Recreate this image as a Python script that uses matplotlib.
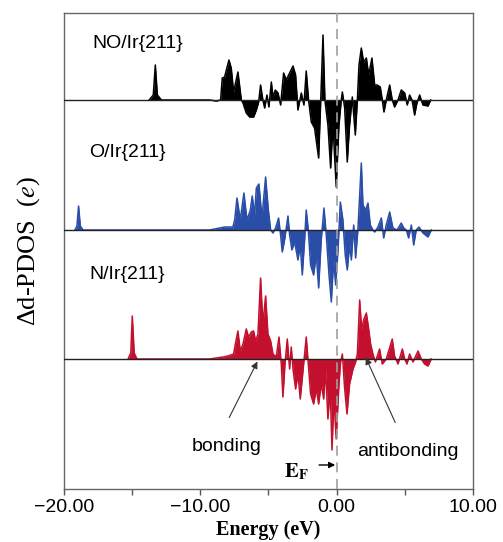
import numpy as np
import matplotlib
matplotlib.use("Agg")
import matplotlib.pyplot as plt
from matplotlib.ticker import MultipleLocator, FuncFormatter

plt.rcParams['font.family'] = ['Liberation Sans', 'DejaVu Sans']
plt.rcParams['mathtext.fontset'] = 'stix'

# Δd-PDOS değerleri (enerji eV, yükseklik keyfi birim)
no_energy = [-13.75, -13.45, -13.3, -13.15, -12.85,
             -9.32, -8.83, -8.51, -8.39, -8.22, -7.90, -7.73, -7.56, -7.24, -6.99,
             -6.87, -6.63, -6.38, -6.09, -5.89, -5.72, -5.58, -5.41, -5.28, -5.11,
             -4.97, -4.79, -4.67, -4.50, -4.30, -4.11, -3.89, -3.69, -3.52, -3.20,
             -3.01, -2.84, -2.59, -2.40, -2.23, -2.06, -1.86, -1.62, -1.32, -1.17,
             -1.00, -0.86, -0.64, -0.44, -0.27, -0.03, 0.17, 0.34, 0.42, 0.59,
             0.78, 0.95, 1.15, 1.37, 1.52, 1.64, 1.81, 1.98, 2.18, 2.35,
             2.59, 2.79, 2.98, 3.20, 3.35, 3.47, 3.64, 3.89, 4.08, 4.25,
             4.50, 4.74, 4.99, 5.18, 5.35, 5.53, 5.72, 5.89, 6.09, 6.33,
             6.70, 6.90]
no_dos = [0, 5, 35, 5, 0,
          0, -1, 0, 22, 23, 40, 32, 8, 28, 0,
          -3, -13, -17, -17, -10, -2, 15, 0, -8, 5,
          -7, 18, 3, 10, 7, -5, 27, 20, 25, 34,
          25, -10, 7, -5, 29, 0, -22, -28, -58, -2,
          65, 0, -25, -68, -25, -87, -25, 0, 8, -8,
          -62, -25, 3, -35, 0, 35, 52, 38, 42, 25,
          42, 15, 15, 13, 0, -12, 0, 15, 0, -7,
          0, 10, 7, -5, 5, 0, -15, -3, 5, -5,
          -6, 0]

o_energy = [-19.2, -19.05, -18.93, -18.8, -18.6,
            -9.32, -8.22, -7.61, -7.48, -7.31, -7.07, -6.80, -6.58, -6.33, -6.19,
            -6.02, -5.89, -5.70, -5.48, -5.21, -5.01, -4.84, -4.67, -4.48, -4.26,
            -4.11, -3.99, -3.82, -3.57, -3.45, -3.28, -3.08, -2.84, -2.67, -2.52,
            -2.35, -2.23, -2.08, -1.91, -1.69, -1.49, -1.32, -1.13, -0.93, -0.76,
            -0.56, -0.39, -0.22, -0.07, 0.10, 0.27, 0.46, 0.63, 0.78, 0.95,
            1.08, 1.25, 1.39, 1.56, 1.81, 1.93, 2.13, 2.30, 2.47, 2.66,
            2.79, 3.03, 3.28, 3.45, 3.64, 3.89, 4.13, 4.43, 4.74, 4.92,
            5.11, 5.28, 5.48, 5.65, 5.84, 6.04, 6.33, 6.70, 6.94]
o_dos = [0, 4, 24, 4, 0,
         0, 3, 3, 10, 32, 10, 37, 10, 20, 34,
         15, 42, 46, 12, 53, 20, 0, -3, 2, 12,
         -5, -22, -10, 14, -5, -20, -12, -30, -15, -45,
         -10, 20, 0, -35, -45, -25, -58, -10, 22, -5,
         -45, -72, -30, -55, -20, 28, 10, -25, -40, -15,
         -30, 5, -28, 0, 67, 25, 20, 27, 5, 0,
         -2, 3, 12, -8, 5, 18, 2, 0, 7, 2,
         0, -8, 5, -15, 0, 3, -3, -7, 0]

n_energy = [-15.3, -15.1, -14.99, -14.85, -14.65,
            -9.32, -8.34, -7.97, -7.56, -7.36, -7.24, -7.07, -6.87, -6.63, -6.46,
            -6.26, -6.09, -5.94, -5.77, -5.58, -5.41, -5.21, -5.04, -4.84, -4.67,
            -4.43, -4.23, -4.06, -3.94, -3.79, -3.62, -3.45, -3.33, -3.20, -3.01,
            -2.84, -2.67, -2.47, -2.23, -2.08, -1.91, -1.69, -1.49, -1.32, -1.13,
            -0.95, -0.81, -0.64, -0.47, -0.34, -0.20, -0.03, 0.17, 0.29, 0.42,
            0.59, 0.76, 0.95, 1.20, 1.39, 1.52, 1.69, 1.83, 2.00, 2.18,
            2.35, 2.49, 2.66, 2.84, 3.03, 3.15, 3.35, 3.64, 4.08, 4.25,
            4.50, 4.82, 4.99, 5.16, 5.35, 5.60, 5.97, 6.21, 6.45, 6.70,
            6.94]
n_dos = [0, 6, 43, 6, 0,
         0, 2, 3, 5, 20, 28, 8, 15, 30, 22,
         27, 28, 18, 25, 81, 35, 63, 25, 18, 5,
         2, 22, -5, -38, -5, 20, -10, 12, -10, -30,
         -15, -40, -12, 22, -5, -35, -45, -30, -45, -25,
         -40, -10, -60, -30, -91, -40, -80, -25, -3, 5,
         -30, -55, -25, -10, -3, 5, 59, 30, 40, 46,
         30, 15, 5, -3, 5, 10, -5, 0, 20, 3,
         -5, 10, 0, -5, 5, -3, 8, 0, -5, -7,
         0]

systems = ["NO/Ir{211}", "O/Ir{211}", "N/Ir{211}"]
colors = ["#000000", "#2a4da8", "#c3102e"]
offsets = [389, 259, 130]
label_pos = [(-17.9, 446), (-18.12, 337), (-18.12, 214)]

fig = plt.figure(figsize=(5.03, 5.42), dpi=100)
ax = fig.add_axes([0.1272, 0.0978, 0.8131, 0.8782])

series = [(no_energy, no_dos), (o_energy, o_dos), (n_energy, n_dos)]
for (en, dos), col, off, name, lp in zip(series, colors, offsets, systems, label_pos):
    en = np.array(en)
    dos = np.array(dos)
    ax.fill_between(en, off, off + dos, color=col, lw=0, zorder=2)
    ax.plot(en, off + dos, color=col, lw=1.1, zorder=2)
    ax.axhline(off, color="#222222", lw=1.0, zorder=3)
    ax.text(lp[0], lp[1], name, fontsize=14, ha="left", va="center")

# Fermi seviyesi
ax.axvline(0, color="#a0a0a0", lw=1.2, ls=(0, (6, 4)), zorder=4)

arrow = dict(arrowstyle="-|>", lw=0.8, color="#333333", mutation_scale=10)
ax.annotate("", xy=(-5.72, 130), xytext=(-7.97, 69), arrowprops=arrow)
ax.annotate("", xy=(2.05, 134), xytext=(4.38, 64), arrowprops=arrow)
ax.text(-8.1, 42, "bonding", fontsize=14, ha="center", va="center")
ax.text(5.21, 37, "antibonding", fontsize=14, ha="center", va="center")
ax.annotate("", xy=(0.1, 24), xytext=(-1.49, 24),
            arrowprops=dict(arrowstyle="-|>", lw=1.0, color="black", mutation_scale=9))
ax.text(-2.96, 17, r"$\mathbf{E}_{\mathbf{F}}$", fontsize=15, ha="center", va="center")

ax.set_xlim(-20, 10)
ax.set_ylim(0, 476)
ax.set_yticks([])
ax.xaxis.set_major_locator(MultipleLocator(10))
ax.xaxis.set_minor_locator(MultipleLocator(5))
ax.xaxis.set_major_formatter(FuncFormatter(lambda v, p: f"{v:.2f}".replace("-", "\u2212")))
ax.tick_params(axis="x", which="both", direction="out", length=4, width=1,
               color="#555555", labelsize=14, pad=3)
for s in ax.spines.values():
    s.set_color("#666666")
    s.set_linewidth(1.0)

ax.set_xlabel("Energy (eV)", family="Liberation Serif", fontweight="bold",
              fontsize=14.5, labelpad=3)
ax.set_ylabel("\u0394d-PDOS  ($e$)", family="Liberation Serif", fontsize=19, labelpad=16)

fig.savefig("out.png", dpi=100)
